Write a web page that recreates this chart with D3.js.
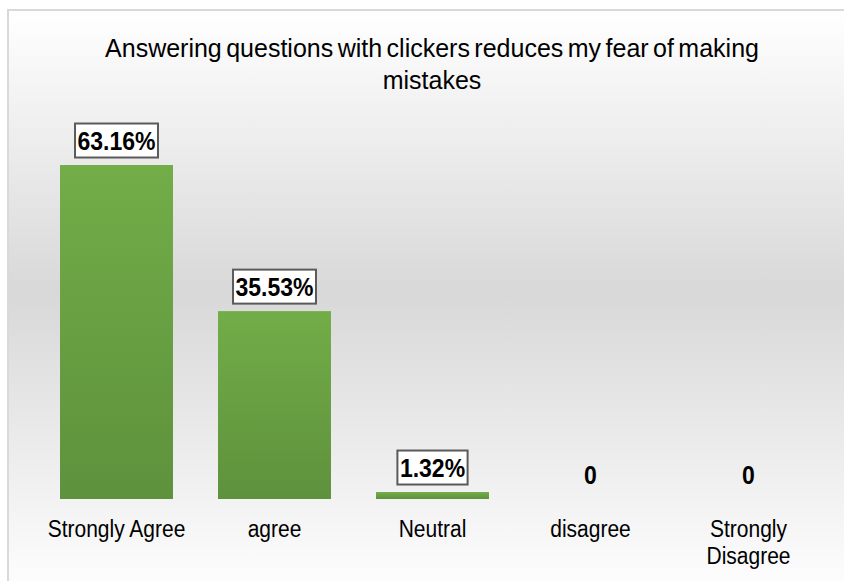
<!DOCTYPE html>
<html>
<head>
<meta charset="utf-8">
<script src="https://cdn.jsdelivr.net/npm/d3@7"></script>
<style>
  html, body { margin: 0; padding: 0; background: #fff; }
  svg { display: block; font-family: "Liberation Sans", Arial, sans-serif; }
</style>
</head>
<body>
<div id="chart"></div>
<script>
// chart data
const categories = ['Strongly Agree', 'agree', 'Neutral', 'disagree', 'Strongly Disagree'];
const values = [63.16, 35.53, 1.32, 0, 0];
const valueLabels = ['63.16%', '35.53%', '1.32%', '0', '0'];
const titleLines = ['Answering questions with clickers reduces my fear of making', 'mistakes'];

const width = 844, height = 581;

const svg = d3.select('#chart').append('svg')
  .attr('width', width)
  .attr('height', height);

const defs = svg.append('defs');

// background gradient of the chart area
const bg = defs.append('linearGradient')
  .attr('id', 'bgGrad')
  .attr('x1', 0).attr('y1', 0).attr('x2', 0).attr('y2', 1);
bg.append('stop').attr('offset', '0%').attr('stop-color', '#ffffff');
bg.append('stop').attr('offset', '48%').attr('stop-color', '#d8d8d8');
bg.append('stop').attr('offset', '100%').attr('stop-color', '#ffffff');

// bar gradient
const barGrad = defs.append('linearGradient')
  .attr('id', 'barGrad')
  .attr('x1', 0).attr('y1', 0).attr('x2', 0).attr('y2', 1);
barGrad.append('stop').attr('offset', '0%').attr('stop-color', '#72ad48');
barGrad.append('stop').attr('offset', '100%').attr('stop-color', '#5e913c');

svg.append('rect')
  .attr('x', 8)
  .attr('y', 10)
  .attr('width', 860)
  .attr('height', 590)
  .attr('fill', 'url(#bgGrad)')
  .attr('stroke', '#d9d9d9')
  .attr('stroke-width', 2);

// title
svg.append('text')
  .attr('text-anchor', 'middle')
  .attr('font-size', 25)
  .style('word-spacing', '-2.5px')
  .selectAll('tspan')
  .data(titleLines)
  .join('tspan')
  .attr('x', 432)
  .attr('y', (d, i) => 57 + i * 31.5)
  .text(d => d);

// scales
const x = d3.scaleBand()
  .domain(categories)
  .range([37.5, 827.5])
  .paddingInner(0.285)
  .paddingOuter(0.1425);

const y = d3.scaleLinear()
  .domain([0, 70])
  .range([499, 499 - 70 * 5.288]);

// bars
svg.selectAll('rect.bar')
  .data(values)
  .join('rect')
  .attr('class', 'bar')
  .attr('x', (d, i) => x(categories[i]))
  .attr('y', d => y(d))
  .attr('width', x.bandwidth())
  .attr('height', d => y(0) - y(d))
  .attr('fill', 'url(#barGrad)');

// category axis
const xAxis = d3.axisBottom(x).tickSize(0).tickPadding(0);
const axisG = svg.append('g')
  .attr('transform', `translate(0, ${y(0)})`)
  .call(xAxis);
axisG.select('.domain').remove();

const sy = 1.13;
axisG.selectAll('.tick text')
  .attr('font-family', '"Liberation Sans", Arial, sans-serif')
  .attr('font-size', 21)
  .attr('fill', '#000')
  .attr('y', null)
  .attr('dy', null)
  .attr('transform', `scale(1, ${sy})`)
  .each(function (d) {
    const t = d3.select(this);
    t.text(null);
    // wrap to band step
    const words = d.split(' ');
    let lines = [];
    let line = [];
    const probe = t.append('tspan');
    words.forEach(w => {
      const trial = line.concat(w).join(' ');
      probe.text(trial);
      if (probe.node().getComputedTextLength() > x.step() && line.length) {
        lines.push(line.join(' '));
        line = [w];
      } else {
        line.push(w);
      }
    });
    lines.push(line.join(' '));
    probe.remove();
    t.selectAll('tspan')
      .data(lines)
      .join('tspan')
      .attr('x', 0)
      .attr('y', (l, i) => (38 + i * 27) / sy)
      .text(l => l);
  });

// value labels
const lsy = 1.15;
const labels = svg.selectAll('g.vlabel')
  .data(values)
  .join('g')
  .attr('class', 'vlabel')
  .attr('transform', (d, i) => `translate(${x(categories[i]) + x.bandwidth() / 2}, ${y(d) - 15.5})`);

labels.each(function (d, i) {
  const g = d3.select(this);
  const txt = g.append('text')
    .attr('text-anchor', 'middle')
    .attr('font-size', 23)
    .attr('font-weight', 'bold')
    .attr('transform', `scale(1, ${lsy})`)
    .text(valueLabels[i]);
  if (d > 0) {
    const w = txt.node().getComputedTextLength();
    g.insert('rect', 'text')
      .attr('x', -w / 2 - 2.5)
      .attr('y', -26)
      .attr('width', w + 5)
      .attr('height', 34)
      .attr('fill', '#fff')
      .attr('stroke', '#5a5a5a')
      .attr('stroke-width', 2);
  }
});
</script>
</body>
</html>
